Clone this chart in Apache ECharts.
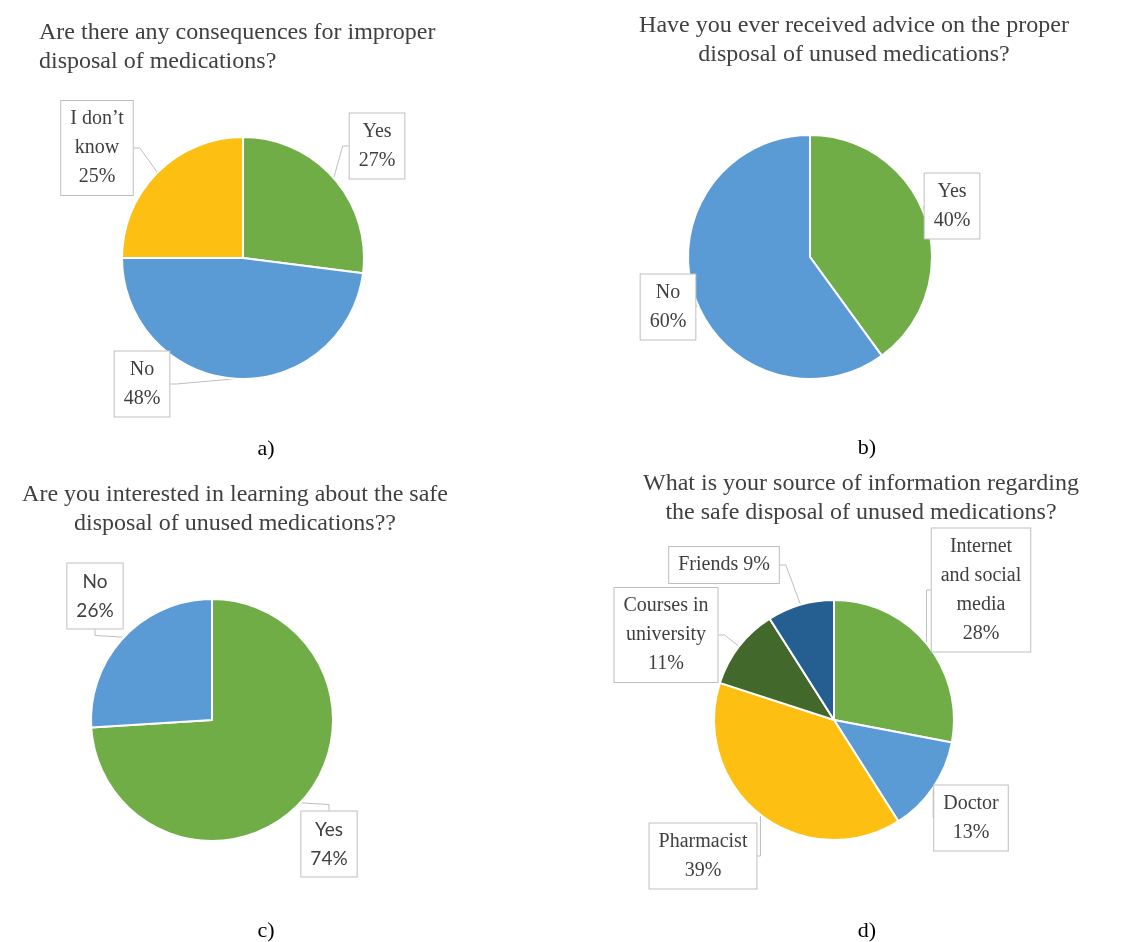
<!DOCTYPE html>
<html>
<head>
<meta charset="utf-8">
<script src="https://cdn.jsdelivr.net/npm/echarts@6/dist/echarts.min.js"></script>
<style>
html,body{margin:0;padding:0;background:#fff;}
#chart{width:1126px;height:942px;}
</style>
</head>
<body>
<div id="chart"></div>
<script>
// ---- Data ----
const aCategories = ["Yes", "No", "I don’t know"];
const aValues = [27, 48, 25];
const aLabelText = ["Yes", "No", "I don’t\nknow"];

const bCategories = ["Yes", "No"];
const bValues = [40, 60];
const bLabelText = ["Yes", "No"];

const cCategories = ["Yes", "No"];
const cValues = [74, 26];
const cLabelText = ["Yes", "No"];

const dCategories = ["Internet and social media", "Doctor", "Pharmacist", "Courses in university", "Friends"];
const dValues = [28, 13, 39, 11, 9];
const dLabelText = ["Internet\nand social\nmedia", "Doctor", "Pharmacist", "Courses in\nuniversity", "Friends"];
const dLabelSep = ["\n", "\n", "\n", "\n", " "];

const titles = [
  "Are there any consequences for improper\ndisposal of medications?",
  "Have you ever received advice on the proper\ndisposal of unused medications?",
  "Are you interested in learning about the safe\ndisposal of unused medications??",
  "What is your source of information regarding\nthe safe disposal of unused medications?"
];
const captions = ["a)", "b)", "c)", "d)"];

// ---- Styles / layout ----
const GREEN = "#70AD47", BLUE = "#5B9BD5", YELLOW = "#FCBF12", DKGREEN = "#43682B", DKBLUE = "#255E91";
const SERIF = '"Liberation Serif", "Times New Roman", serif';
const SANS = 'Lato, "Open Sans", sans-serif';
const TXT = "#404040";

function makePie(cats, vals, labelText, sep, colors, center, radius, labelPos, fontFamily, fontSize) {
  return {
    type: "pie",
    center: center,
    radius: radius,
    startAngle: 90,
    clockwise: true,
    avoidLabelOverlap: false,
    animation: false,
    itemStyle: { borderColor: "#ffffff", borderWidth: 2 },
    label: {
      show: true,
      position: "outside",
      formatter: function (p) {
        const s = sep ? sep[p.dataIndex] : "\n";
        return labelText[p.dataIndex] + s + p.value + "%";
      },
      color: TXT,
      fontFamily: fontFamily,
      fontSize: fontSize,
      lineHeight: 29,
      align: "center",
      backgroundColor: "#ffffff",
      borderColor: "#bfbfbf",
      borderWidth: 1,
      padding: [4, 9, 3, 9]
    },
    labelLine: { show: true, length: 6, length2: 6, lineStyle: { color: "#bfbfbf", width: 1 } },
    labelLayout: function (params) {
      const p = labelPos[params.dataIndex];
      return { x: p[0], y: p[1], align: "center", verticalAlign: "middle" };
    },
    data: cats.map(function (c, i) {
      return { name: c, value: vals[i], itemStyle: { color: colors[i] } };
    })
  };
}

const series = [
  makePie(aCategories, aValues, aLabelText, null, [GREEN, BLUE, YELLOW], [243, 258], 121,
    [[377, 146], [142, 384], [97, 148]], SERIF, 20),
  makePie(bCategories, bValues, bLabelText, null, [GREEN, BLUE], [810, 257], 122,
    [[952, 206], [668, 307]], SERIF, 20),
  makePie(cCategories, cValues, cLabelText, null, [GREEN, BLUE], [212, 720], 121,
    [[329, 844], [95, 596]], SANS, 19),
  makePie(dCategories, dValues, dLabelText, dLabelSep, [GREEN, BLUE, YELLOW, DKGREEN, DKBLUE], [834, 720], 120,
    [[981, 590], [971, 818], [703, 856], [666, 635], [724, 565]], SERIF, 20)
];

const titlePos = [[39, 47, "left"], [854, 40, "center"], [235, 509, "center"], [861, 498, "center"]];
const captionPos = [[266, 449], [867, 448], [266, 931], [867, 931]];

const graphics = [];
titles.forEach(function (t, i) {
  graphics.push({
    type: "text", x: titlePos[i][0], y: titlePos[i][1], silent: true,
    style: {
      text: t, fill: TXT, font: "24px " + SERIF,
      align: titlePos[i][2], textAlign: titlePos[i][2],
      verticalAlign: "middle", textVerticalAlign: "middle", lineHeight: 29
    }
  });
});
captions.forEach(function (t, i) {
  graphics.push({
    type: "text", x: captionPos[i][0], y: captionPos[i][1], silent: true,
    style: {
      text: t, fill: "#000000", font: "22px " + SERIF,
      align: "center", textAlign: "center", verticalAlign: "middle", textVerticalAlign: "middle"
    }
  });
});

const chart = echarts.init(document.getElementById("chart"), null, { renderer: "canvas" });
chart.setOption({
  backgroundColor: "#ffffff",
  animation: false,
  series: series,
  graphic: graphics
});
</script>
</body>
</html>
